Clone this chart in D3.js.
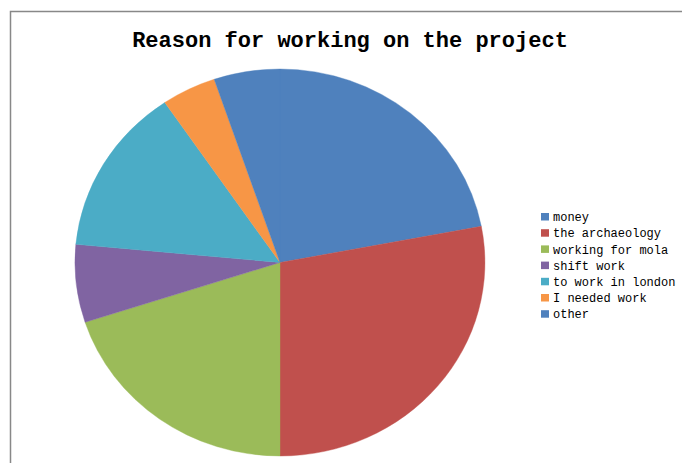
<!DOCTYPE html>
<html>
<head>
<meta charset="utf-8">
<script src="https://cdn.jsdelivr.net/npm/d3@7"></script>
<style>
  body { margin: 0; background: #fff; }
  svg { display: block; }
</style>
</head>
<body>
<svg id="chart" width="682" height="463"></svg>
<script>
// reasons, share of answers
const reasons = ["money", "the archaeology", "working for mola", "shift work",
                 "to work in london", "I needed work", "other"];
const shares = [22, 28, 20, 6.5, 14, 4.3, 5.2];
const colours = ["#4F81BD", "#C0504D", "#9BBB59", "#8064A2", "#4BACC6", "#F79646", "#4F81BD"];

const data = reasons.map((r, i) => ({ label: r, value: shares[i] }));

const svg = d3.select("#chart");
const width = 682, height = 463;

// frame
svg.append("path")
    .attr("d", `M10.5,${height} L10.5,11.5 L${width},11.5`)
    .attr("fill", "none")
    .attr("stroke", "#888")
    .attr("stroke-width", 1.5);

// title
svg.append("text")
    .attr("x", 350)
    .attr("y", 47)
    .attr("text-anchor", "middle")
    .style("font-family", "'Liberation Mono', 'DejaVu Sans Mono', monospace")
    .style("font-weight", "bold")
    .style("font-size", "22px")
    .attr("fill", "#000")
    .text("Reason for working on the project");

// pie (slightly squashed, like the original)
const cx = 280, cy = 262.5, rx = 205, ry = 193.5;

const pie = d3.pie()
    .value(d => d.value)
    .sort(null);

const arc = d3.arc()
    .innerRadius(0)
    .outerRadius(1);

const color = d3.scaleOrdinal()
    .domain(d3.range(reasons.length))
    .range(colours);

svg.append("g")
    .attr("transform", `translate(${cx},${cy}) scale(${rx},${ry})`)
    .selectAll("path")
    .data(pie(data))
    .join("path")
    .attr("d", arc)
    .attr("fill", (d, i) => color(i))
    .attr("stroke", (d, i) => color(i))
    .attr("stroke-width", 0.002);

// legend
const legend = svg.append("g")
    .attr("transform", "translate(541,213)")
    .selectAll("g")
    .data(reasons)
    .join("g")
    .attr("transform", (d, i) => `translate(0,${i * 16.2})`);

legend.append("rect")
    .attr("width", 8)
    .attr("height", 7.5)
    .attr("fill", (d, i) => color(i));

legend.append("text")
    .attr("x", 12)
    .attr("y", 4)
    .attr("dy", "0.35em")
    .style("font-family", "'Liberation Mono', 'DejaVu Sans Mono', monospace")
    .style("font-size", "12px")
    .attr("fill", "#000")
    .text(d => d);
</script>
</body>
</html>
